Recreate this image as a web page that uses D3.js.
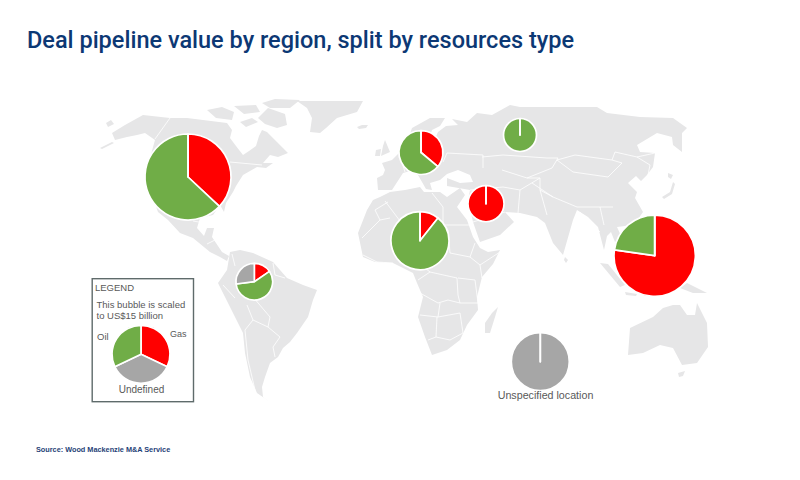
<!DOCTYPE html>
<html>
<head>
<meta charset="utf-8">
<script src="https://cdn.jsdelivr.net/npm/d3@7"></script>
<style>
  body { margin: 0; background: #fff; }
  text { font-family: "Liberation Sans", Arial, sans-serif; fill: #595959; }
</style>
</head>
<body>
<div id="chart"></div>
<script>
var svgWidth = 800;
var svgHeight = 480;

var regions = ["North America", "Europe", "Russia", "Middle East", "Africa", "Asia Pacific", "South America", "Unspecified location"];
var gas = [12.2, 3.1, 0, 5.8, 1.6, 22.8, 0.93, 0];
var oil = [20.8, 5.5, 4.85, 0, 13.4, 6.7, 3.45, 0];
var undefinedType = [0, 0, 0, 0, 0, 0, 1.62, 15];

var legendTypes = ["Gas", "Undefined", "Oil"];
var legendValues = [4.8, 5.4, 4.8];

// Map plane outlines
var landOutlines = [
  // north america
  [[112,133],[125,125],[143,115],[170,118],[187,118],[203,120],[227,123],[232,130],[230,138],[236,146],[243,155],[249,151],[256,146],[259,136],[262,130],[267,132],[277,142],[288,153],[278,157],[270,155],[263,163],[273,163],[266,168],[257,167],[243,175],[236,186],[233,192],[226,203],[224,212],[220,205],[213,215],[200,218],[197,228],[204,236],[207,228],[214,228],[212,237],[216,243],[222,252],[229,256],[227,261],[220,257],[210,252],[193,238],[180,233],[168,220],[158,212],[150,190],[148,165],[155,140],[145,133],[137,135],[127,137],[115,140]],
  [[100,148],[112,142],[114,143],[102,149]],
  [[106,123],[111,120],[114,124],[108,127]],
  // arctic islands and greenland
  [[207,110],[222,107],[234,112],[232,120],[216,118]],
  [[234,106],[256,105],[260,112],[244,114]],
  [[258,118],[268,108],[285,114],[287,125],[277,128],[265,124]],
  [[262,103],[275,99],[300,100],[290,108],[270,108]],
  [[240,122],[252,118],[258,122],[246,127]],
  [[297,101],[363,101],[357,112],[337,118],[326,128],[320,133],[310,132],[312,118],[307,108]],
  [[357,127],[362,125],[368,125],[366,128],[359,129]],
  // south america
  [[230,252],[240,250],[253,253],[273,262],[287,278],[303,285],[317,290],[313,300],[308,317],[297,333],[290,342],[283,348],[278,357],[270,363],[265,377],[262,387],[263,397],[270,402],[257,393],[250,377],[245,353],[243,333],[235,317],[225,297],[218,283],[227,270]],
  // africa
  [[380,197],[390,192],[405,190],[420,187],[424,192],[440,192],[447,197],[460,188],[465,195],[457,207],[467,220],[473,237],[480,248],[488,252],[500,250],[493,264],[482,277],[477,297],[478,310],[467,325],[460,340],[447,350],[432,355],[425,337],[418,317],[423,297],[417,283],[413,273],[393,263],[375,262],[363,257],[358,233],[367,210],[373,200]],
  [[498,307],[495,317],[490,333],[485,333],[485,323],[492,313]],
  // europe and asia
  [[377,178],[383,175],[385,170],[382,163],[392,160],[400,152],[412,146],[420,140],[432,145],[438,132],[446,126],[458,125],[452,119],[467,122],[477,113],[492,115],[510,105],[520,107],[553,107],[597,107],[607,113],[640,117],[673,118],[687,128],[682,133],[682,152],[673,145],[672,137],[657,133],[637,145],[640,152],[655,153],[653,167],[647,175],[641,181],[636,176],[628,183],[637,192],[635,198],[643,212],[636,222],[625,226],[617,227],[622,238],[615,242],[611,232],[607,236],[604,250],[598,227],[588,217],[577,210],[573,220],[563,255],[553,243],[545,223],[537,217],[520,213],[505,212],[514,222],[500,235],[480,242],[473,222],[468,200],[470,190],[447,186],[447,178],[460,183],[473,182],[470,175],[458,170],[447,174],[440,180],[430,183],[432,190],[426,189],[418,175],[410,171],[403,173],[392,190],[378,190]],
  [[405,148],[412,128],[430,118],[445,118],[440,126],[432,130],[428,142],[420,146]],
  [[385,140],[390,152],[381,156],[383,146]],
  [[376,150],[381,149],[380,156],[375,156]],
  // japan, south east asia, australia
  [[673,182],[670,192],[662,197],[664,199],[672,194],[675,184]],
  [[668,173],[673,175],[671,179],[668,177]],
  [[600,263],[620,287],[625,285],[608,264]],
  [[625,292],[637,294],[636,296],[626,295]],
  [[640,262],[648,259],[660,268],[672,283],[650,285],[640,275]],
  [[687,283],[707,293],[693,293],[680,288]],
  [[565,257],[568,260],[566,263],[564,260]],
  [[628,355],[630,328],[653,317],[663,308],[673,305],[680,305],[687,315],[695,315],[697,303],[707,323],[708,347],[697,363],[682,365],[673,348],[660,345],[643,353]],
  [[678,373],[685,371],[683,376],[679,377]]
];

var borderLines = [
  [[170,118],[155,139]], [[230,162],[262,165]], [[193,221],[222,226]], [[207,244],[215,240]],
  // south america
  [[247,305],[253,320],[245,330],[248,360],[255,390]], [[253,297],[270,317],[268,327],[280,337],[273,347],[275,357]],
  [[253,320],[268,327]], [[223,285],[235,298]], [[273,263],[275,275],[285,278]], [[232,254],[235,266]],
  // africa
  [[443,207],[443,225]], [[443,225],[472,225]], [[448,230],[450,253]], [[450,253],[470,257],[475,243]], [[470,257],[480,265],[500,252]],
  [[480,265],[482,278]], [[430,272],[457,278],[458,295],[460,303],[448,300],[438,303],[420,293]], [[458,278],[475,280],[478,303],[460,303]],
  [[420,315],[438,317],[440,303]], [[437,317],[436,337],[428,340]], [[438,317],[460,313],[463,333],[450,340],[436,337]],
  [[425,268],[430,272],[418,280]], [[362,238],[380,220],[390,218]], [[380,220],[375,210],[388,202]], [[363,255],[377,262],[393,263]],
  [[385,201],[400,221]], [[443,207],[432,193]],
  // europe and asia
  [[447,153],[483,155],[483,168]], [[405,172],[400,155]], [[443,162],[447,153]], [[482,157],[503,155],[547,158],[558,158]],
  [[557,160],[575,155],[612,160],[615,152],[637,157],[655,153]], [[557,160],[573,172],[608,177],[622,163],[612,160]],
  [[637,157],[650,165],[648,175]], [[502,170],[527,178],[552,168],[558,158]], [[532,183],[553,197],[577,207],[600,207],[613,207]],
  [[503,187],[520,190],[518,213]], [[520,190],[540,178],[527,178]], [[540,178],[540,190],[547,215]], [[553,197],[540,190]],
  [[580,212],[590,222],[600,232]], [[600,207],[604,225]], [[470,190],[503,187]], [[473,222],[505,212]]
];

// Where each bubble sits and where the legend goes, in pixels
var bubbleCentres = [[188,177],[421,152.5],[520,135],[486,203.7],[420,240.7],[654.7,255.7],[254.3,281.7],[540.3,361.7]];
var legendCentre = [141, 354.3];

var color = d3.scaleOrdinal()
  .domain(["Gas", "Oil", "Undefined"])
  .range(["#ff0000", "#70ad47", "#a6a6a6"]);

// The legend bubble (US$15 billion) fixes the size scale
var radius = d3.scaleSqrt().domain([0, 15]).range([0, 29]);

var svg = d3.select("#chart")
  .append("svg")
  .attr("width", svgWidth)
  .attr("height", svgHeight)
  .style("display", "block");

svg.append("defs").append("filter")
  .attr("id", "soft")
  .append("feGaussianBlur")
  .attr("stdDeviation", 0.5);

// Base map
var mapPath = d3.geoPath(d3.geoIdentity());
var mapGroup = svg.append("g").attr("filter", "url(#soft)");

mapGroup.selectAll(".land")
  .data(landOutlines)
  .enter()
  .append("path")
  .attr("class", "land")
  .attr("d", d => mapPath({type: "Polygon", coordinates: [d.concat([d[0]])]}))
  .attr("fill", "#e6e6e7");

mapGroup.selectAll(".border")
  .data(borderLines)
  .enter()
  .append("path")
  .attr("class", "border")
  .attr("d", d => mapPath({type: "LineString", coordinates: d}))
  .attr("fill", "none")
  .attr("stroke", "#fff")
  .attr("stroke-width", 0.8);

var pie = d3.pie().sort(null).value(d => d.value);

function drawBubble(slices, centre) {
  var total = d3.sum(slices, d => d.value);
  var arc = d3.arc().innerRadius(0).outerRadius(radius(total));
  var group = svg.append("g")
    .attr("transform", `translate(${centre[0]}, ${centre[1]})`);
  // empty slices go on top so they still show as a white spoke at 12 o'clock
  group.selectAll("path")
    .data(pie(slices))
    .enter()
    .append("path")
    .sort((a, b) => (a.value === 0) - (b.value === 0))
    .attr("d", arc)
    .attr("fill", d => color(d.data.type))
    .attr("stroke", "#fff")
    .attr("stroke-width", 1.7)
    .attr("stroke-linejoin", "round");
}

regions.forEach(function(region, i) {
  drawBubble([
    {type: "Gas", value: gas[i]},
    {type: "Oil", value: oil[i]},
    {type: "Undefined", value: undefinedType[i]}
  ], bubbleCentres[i]);
});

// Legend box
svg.append("rect")
  .attr("x", 92.2)
  .attr("y", 278.7)
  .attr("width", 101.3)
  .attr("height", 123)
  .attr("fill", "none")
  .attr("stroke", "#5f6b6b")
  .attr("stroke-width", 1.4);

drawBubble(legendTypes.map((t, i) => ({type: t, value: legendValues[i]})), legendCentre);

var labels = [
  {text: "LEGEND", x: 95, y: 291, size: 9.5},
  {text: "This bubble is scaled", x: 96.5, y: 308, size: 9.5},
  {text: "to US$15 billion", x: 96.5, y: 319, size: 9.5},
  {text: "Oil", x: 97, y: 339.5, size: 9.5},
  {text: "Gas", x: 170, y: 337, size: 9},
  {text: "Undefined", x: 118.7, y: 393, size: 10},
  {text: "Unspecified location", x: 497.7, y: 398.5, size: 10.7}
];

svg.selectAll(".label")
  .data(labels)
  .enter()
  .append("text")
  .attr("class", "label")
  .attr("x", d => d.x)
  .attr("y", d => d.y)
  .attr("font-size", d => d.size)
  .text(d => d.text);

svg.append("text")
  .attr("x", 27)
  .attr("y", 48)
  .attr("font-size", 23.5)
  .attr("font-weight", 500)
  .style("font-family", "Roboto")
  .style("fill", "#0c3874")
  .text("Deal pipeline value by region, split by resources type");

svg.append("text")
  .attr("x", 36)
  .attr("y", 452)
  .attr("font-size", 7.3)
  .attr("font-weight", 700)
  .style("fill", "#1f3f77")
  .text("Source: Wood Mackenzie M&A Service");
</script>
</body>
</html>
